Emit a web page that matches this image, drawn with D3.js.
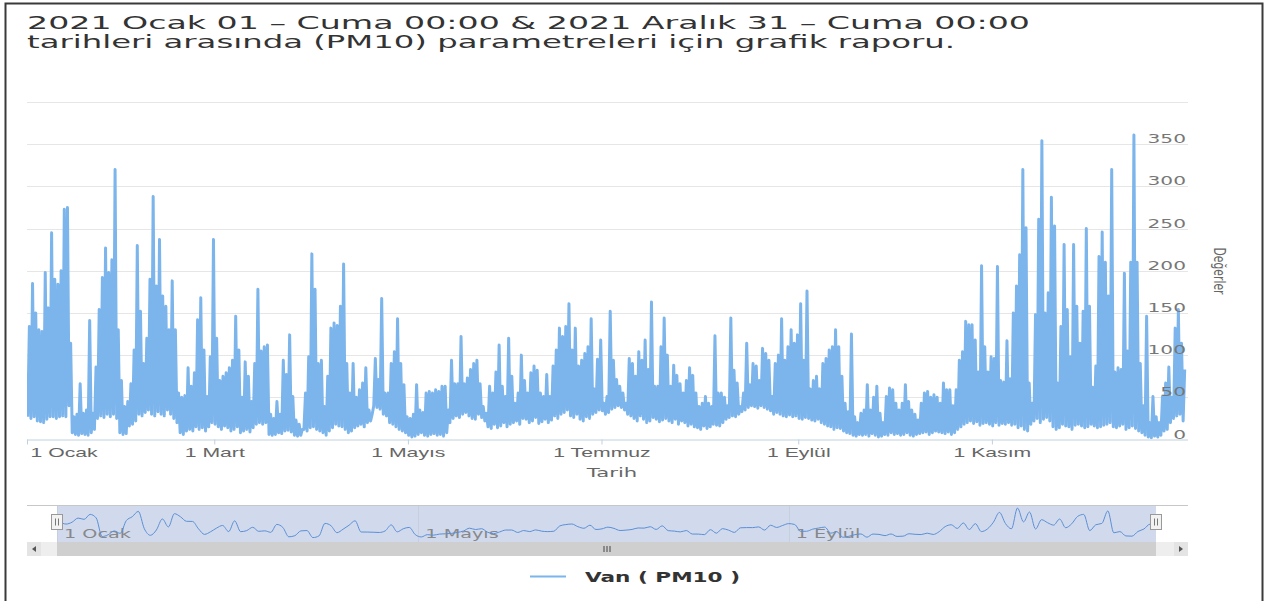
<!DOCTYPE html>
<html>
<head>
<meta charset="utf-8">
<script src="https://cdn.jsdelivr.net/npm/d3@7"></script>
<style>
  html, body { margin: 0; padding: 0; background: #fff; }
  svg { display: block; font-family: "DejaVu Sans", "Noto Sans", sans-serif; }
</style>
</head>
<body>
<svg id="chart" width="1268" height="601"></svg>
<script>
// Van PM10, 2021 — daily lowest / highest hourly readings (µg/m³), one array per month.
const ocakMax   = [134,185,150,130,128,198,156,245,190,184,200,273,275,114,27,30,66,31,35,141,31,86,154,192,227,198,213,320,130,70,39];
const ocakMin   = [27,25,27,22,21,20,24,27,27,25,27,28,27,40,8,6,5,7,6,5,8,12,25,28,26,30,27,30,25,8,6];
const subatMax  = [45,66,106,230,152,90,120,190,288,182,237,170,158,130,188,130,55,50,52,85,63,79,142,168,106,51,98,237];
const subatMin  = [7,16,18,22,30,28,32,35,30,28,33,30,28,35,30,25,20,8,6,10,12,10,15,12,14,10,15,20];
const martMax   = [120,70,75,79,85,94,146,106,50,92,75,45,90,178,105,110,112,30,25,45,30,94,77,124,51,23,18,12,55,98,220];
const martMin   = [18,15,12,16,14,10,12,15,8,10,12,9,14,18,20,18,20,6,5,6,8,7,10,11,9,5,4,5,12,10,14];
const nisanMax  = [178,90,94,39,75,132,138,135,158,208,90,55,90,50,59,67,85,35,30,96,71,167,55,55,90,104,143,90,65,27];
const nisanMin  = [15,12,10,8,5,10,14,18,16,15,12,8,10,14,16,18,15,20,22,40,38,36,30,28,20,18,15,12,10,8];
const mayisMax  = [25,30,65,35,32,55,57,55,59,57,63,63,35,94,66,66,122,66,73,83,90,94,66,39,31,63,55,80,112,63,51];
const mayisMin  = [5,3,4,6,8,5,4,6,7,5,6,4,8,20,25,28,26,30,32,28,25,24,30,26,22,15,13,18,14,16,20];
const haziranMax = [120,75,43,55,100,70,55,79,87,82,55,51,77,51,87,106,132,122,134,161,106,132,87,94,102,110,143,60,95,118];
const haziranMin = [15,18,20,22,18,25,24,20,22,26,19,21,24,20,23,28,25,30,32,35,28,26,30,24,22,27,25,30,32,35];
const temmuzMax = [43,51,152,94,71,63,55,43,96,90,75,104,94,118,83,163,63,63,110,144,100,63,88,76,66,55,70,85,76,55,39];
const temmuzMin = [34,30,32,36,38,40,38,35,30,28,25,22,28,24,20,22,26,24,21,23,25,22,20,24,18,22,20,16,18,15,14];
const agustosMax = [43,51,43,39,123,55,55,50,40,144,82,67,39,55,114,65,90,87,70,108,102,94,51,90,100,143,94,110,130,114,124];
const agustosMin = [12,16,13,15,18,17,16,20,24,26,28,27,30,33,35,38,40,39,37,40,38,36,34,30,32,30,28,27,29,27,28];
const eylulMax  = [161,94,176,60,70,75,60,90,96,106,110,130,110,75,43,33,125,27,20,31,35,65,35,50,63,31,20,51,61,59];
const eylulMin  = [25,24,26,25,23,22,24,20,18,16,15,12,14,13,10,8,7,5,4,6,5,6,4,7,5,3,4,6,5,8];
const ekimMax   = [43,35,43,65,45,35,30,23,43,55,57,50,53,50,43,67,59,59,40,59,94,104,140,136,136,118,80,206,110,80,98];
const ekimMin   = [6,7,5,6,8,5,4,6,7,8,9,6,8,10,9,8,7,9,6,8,12,15,18,20,22,19,21,17,19,20,18];
const kasimMax  = [96,205,70,68,117,72,150,182,219,320,251,67,43,148,261,354,150,174,287,253,67,134,231,154,98,231,158,114,152,250];
const kasimMin  = [16,20,17,19,18,20,17,18,14,16,12,10,18,22,25,20,24,26,22,15,12,14,18,16,15,12,17,18,16,14];
const aralikMax = [158,62,87,217,246,210,170,320,80,85,83,197,105,210,361,210,90,40,146,20,51,27,20,51,67,86,50,132,154,114,83];
const aralikMin = [15,18,16,14,15,17,18,20,15,14,16,18,12,14,16,13,10,8,5,3,2,4,3,5,10,12,20,25,28,30,22];

const ayAdlari = ["Ocak","Şubat","Mart","Nisan","Mayıs","Haziran","Temmuz","Ağustos","Eylül","Ekim","Kasım","Aralık"];
const yTicks = [0, 50, 100, 150, 200, 250, 300, 350, 400];
const baslik1 = "2021 Ocak 01 – Cuma 00:00 & 2021 Aralık 31 – Cuma 00:00";
const baslik2 = "tarihleri arasında (PM10) parametreleri için grafik raporu.";
const seriAdi = "Van ( PM10 )";

const aylikMax = [ocakMax, subatMax, martMax, nisanMax, mayisMax, haziranMax, temmuzMax, agustosMax, eylulMax, ekimMax, kasimMax, aralikMax];
const aylikMin = [ocakMin, subatMin, martMin, nisanMin, mayisMin, haziranMin, temmuzMin, agustosMin, eylulMin, ekimMin, kasimMin, aralikMin];

// Two readings per day: the day's low in the morning, its high in the evening.
const seri = [];
const gunluk = [];
aylikMax.forEach((maxlar, ay) => {
  maxlar.forEach((hi, i) => {
    const lo = aylikMin[ay][i];
    const gun = Date.UTC(2021, ay, i + 1);
    seri.push({ t: new Date(gun + 6 * 3600e3), v: lo });
    seri.push({ t: new Date(gun + 18 * 3600e3), v: hi });
    gunluk.push({ t: gun, lo, hi });
  });
});

// Navigator series: 2-day averages of the daily mid values.
const navSeri = [];
for (let i = 0; i < gunluk.length; i += 2) {
  const grup = gunluk.slice(i, i + 2);
  const ort = d3.mean(grup, g => (g.lo + g.hi) / 2);
  navSeri.push({ t: new Date(grup[0].t + grup.length * 12 * 3600e3), v: ort });
}

const svg = d3.select("#chart");
const renk = "#7cb5ec";
const basla = new Date(Date.UTC(2021, 0, 1));
const bitis = new Date(Date.UTC(2022, 0, 1));

const plot = { left: 27, right: 1188, top: 102, bottom: 439.5 };
const x = d3.scaleUtc().domain([basla, bitis]).range([27, 1185.5]);
const y = d3.scaleLinear().domain([0, 400]).range([plot.bottom, plot.top]);

function stretch(sel, k) {
  sel.each(function () {
    const w = this.getComputedTextLength();
    d3.select(this).attr("textLength", w * k).attr("lengthAdjust", "spacingAndGlyphs");
  });
  return sel;
}

// Frame
svg.append("rect").attr("x", 5.5).attr("y", 3.5).attr("width", 1257).attr("height", 640)
  .attr("fill", "none").attr("stroke", "#3a3a3a").attr("stroke-width", 2);

// Title
svg.append("text").attr("x", 27).attr("y", 29).attr("font-size", 18).attr("fill", "#333")
  .attr("textLength", 1003).attr("lengthAdjust", "spacingAndGlyphs").text(baslik1);
svg.append("text").attr("x", 27).attr("y", 48).attr("font-size", 18).attr("fill", "#333")
  .attr("textLength", 928).attr("lengthAdjust", "spacingAndGlyphs").text(baslik2);

// Horizontal grid
svg.append("g").selectAll("line").data(yTicks.filter(v => v > 0)).join("line")
  .attr("x1", plot.left).attr("x2", plot.right)
  .attr("y1", d => Math.round(y(d)) + 0.5).attr("y2", d => Math.round(y(d)) + 0.5)
  .attr("stroke", "#e6e6e6").attr("stroke-width", 1);

// Series
svg.append("clipPath").attr("id", "plotClip").append("rect")
  .attr("x", plot.left).attr("y", plot.top - 5).attr("width", plot.right - plot.left).attr("height", plot.bottom - plot.top + 5);
const cizgi = d3.line().x(d => x(d.t)).y(d => y(d.v));
svg.append("path").datum(seri).attr("d", cizgi).attr("clip-path", "url(#plotClip)")
  .attr("fill", "none").attr("stroke", renk).attr("stroke-width", 3).attr("stroke-linejoin", "round");

// X axis
const xTickVals = d3.utcMonth.every(2).range(basla, bitis);
const xAxis = svg.append("g").attr("transform", `translate(0,${plot.bottom})`)
  .call(d3.axisBottom(x).tickValues(xTickVals).tickSize(5).tickPadding(3)
    .tickFormat(d => `${d.getUTCDate()} ${ayAdlari[d.getUTCMonth()]}`));
xAxis.select(".domain").attr("d", `M${plot.left},0.5H${plot.right}`).attr("stroke", "#c0d0e0");
xAxis.selectAll(".tick line").attr("stroke", "#c0d0e0");
xAxis.selectAll(".tick text").attr("font-size", 13).attr("fill", "#666").attr("font-family", null);
xAxis.selectAll(".tick text").filter((d, i) => i === 0).attr("text-anchor", "start").attr("x", 3);
stretch(xAxis.selectAll(".tick text"), 1.63);
stretch(svg.append("text").attr("x", 612).attr("y", 477).attr("text-anchor", "middle")
  .attr("font-size", 13).attr("fill", "#666").text("Tarih"), 1.63);

// Y axis labels, inside the plot on the right
const yLab = svg.append("g").selectAll("text").data(yTicks.filter(v => v < 400)).join("text")
  .attr("x", 1186).attr("y", d => y(d) - 1).attr("text-anchor", "end")
  .attr("font-size", 13).attr("fill", "#777").text(d => d);
stretch(yLab, 1.55);
svg.append("text").attr("transform", "translate(1214,271) rotate(90)").attr("text-anchor", "middle")
  .attr("font-size", 16).attr("fill", "#666").attr("textLength", 47).attr("lengthAdjust", "spacingAndGlyphs")
  .text("Değerler");

// Navigator
const nav = { left: 27, right: 1188, top: 505.5, bottom: 542 };
const xNav = d3.scaleUtc().domain([basla, bitis]).range([57, 1156]);
const yNav = d3.scaleLinear().domain([0, d3.max(navSeri, d => d.v)]).range([540, 508]);
const navG = svg.append("g");
navG.append("rect").attr("x", xNav(basla)).attr("y", nav.top).attr("width", xNav(bitis) - xNav(basla))
  .attr("height", nav.bottom - nav.top).attr("fill", "rgba(102,133,194,0.3)");
const navTicks = d3.utcMonth.every(4).range(basla, bitis);
navG.selectAll("line.grid").data(navTicks).join("line").attr("class", "grid")
  .attr("x1", d => Math.round(xNav(d)) + 0.5).attr("x2", d => Math.round(xNav(d)) + 0.5)
  .attr("y1", nav.top).attr("y2", nav.bottom).attr("stroke", "#c8cfdc");
stretch(navG.selectAll("text").data(navTicks).join("text")
  .attr("x", d => xNav(d) + 7).attr("y", 538).attr("font-size", 12).attr("fill", "#888")
  .text(d => `${d.getUTCDate()} ${ayAdlari[d.getUTCMonth()]}`), 1.6);
navG.append("path").datum(navSeri).attr("d", d3.line().curve(d3.curveMonotoneX).x(d => xNav(d.t)).y(d => yNav(d.v)))
  .attr("fill", "none").attr("stroke", "#5b8fd6").attr("stroke-width", 1);
navG.append("line").attr("x1", nav.left).attr("x2", nav.right).attr("y1", nav.top).attr("y2", nav.top)
  .attr("stroke", "#c7c7c7");
[basla, bitis].forEach(t => {
  const cx = Math.round(xNav(t));
  const h = navG.append("g").attr("transform", `translate(${cx},522)`);
  h.append("rect").attr("x", -5.5).attr("y", -7.5).attr("width", 11).attr("height", 15)
    .attr("fill", "#f2f2f2").attr("stroke", "#999");
  [-1.5, 1.5].forEach(dx => h.append("line").attr("x1", dx).attr("x2", dx).attr("y1", -3.5).attr("y2", 3.5)
    .attr("stroke", "#777"));
});

// Scrollbar
const sb = { top: 542, h: 14 };
svg.append("rect").attr("x", nav.left).attr("y", sb.top).attr("width", nav.right - nav.left).attr("height", sb.h)
  .attr("fill", "#eeeeee");
svg.append("rect").attr("x", xNav(basla)).attr("y", sb.top).attr("width", xNav(bitis) - xNav(basla)).attr("height", sb.h)
  .attr("fill", "#cfcfcf");
[[nav.left, 1], [nav.right - 14, -1]].forEach(([bx, dir]) => {
  svg.append("rect").attr("x", bx).attr("y", sb.top).attr("width", 14).attr("height", sb.h).attr("fill", "#e4e4e4");
  const cx = bx + 7, cy = sb.top + 7;
  svg.append("path").attr("d", `M${cx - 2 * dir},${cy}L${cx + 2 * dir},${cy - 3}L${cx + 2 * dir},${cy + 3}Z`).attr("fill", "#555");
});
const gx = (xNav(basla) + xNav(bitis)) / 2;
[-3, 0, 3].forEach(dx => svg.append("line").attr("x1", gx + dx + 0.5).attr("x2", gx + dx + 0.5)
  .attr("y1", sb.top + 4).attr("y2", sb.top + 10).attr("stroke", "#444"));

// Legend
svg.append("line").attr("x1", 530).attr("x2", 566).attr("y1", 576.5).attr("y2", 576.5)
  .attr("stroke", renk).attr("stroke-width", 2);
svg.append("text").attr("x", 585).attr("y", 582).attr("font-size", 14).attr("font-weight", "bold")
  .attr("fill", "#333").attr("textLength", 155).attr("lengthAdjust", "spacingAndGlyphs").text(seriAdi);
</script>
</body>
</html>
